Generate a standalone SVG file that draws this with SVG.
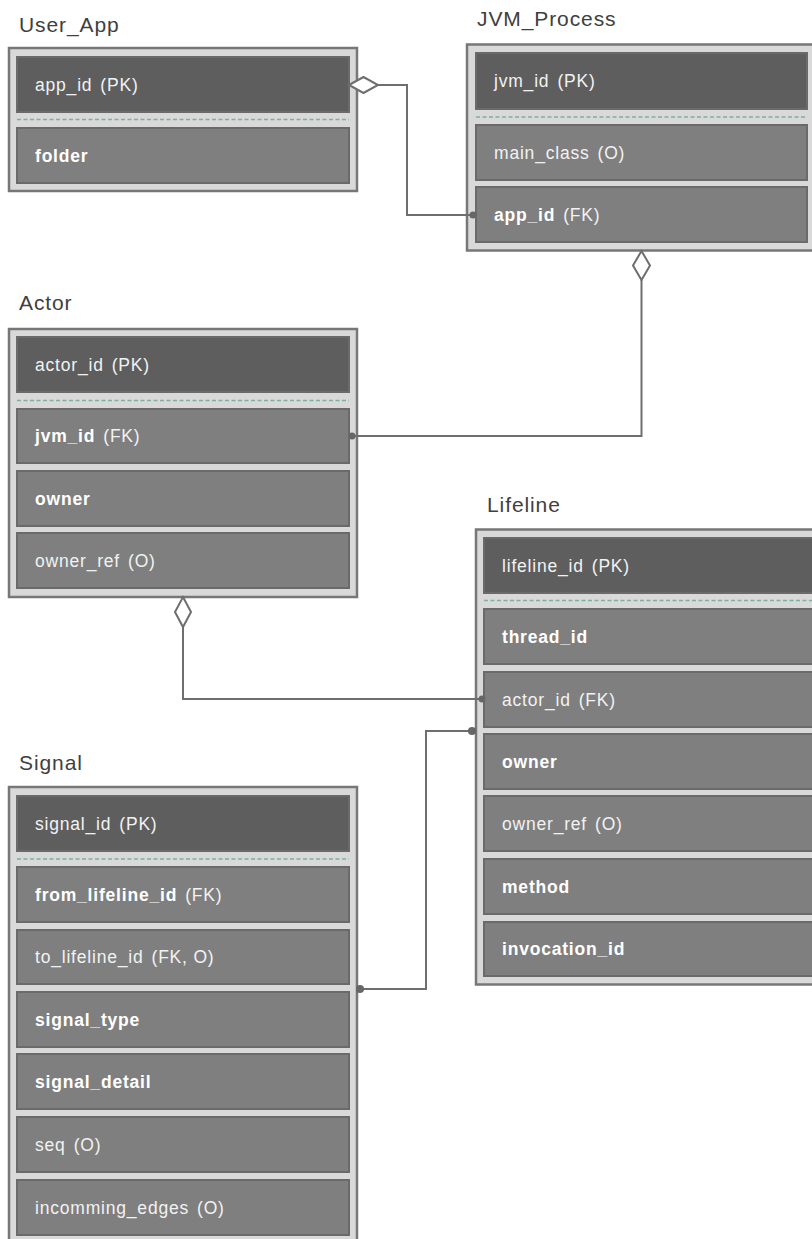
<svg xmlns="http://www.w3.org/2000/svg" width="812" height="1239" viewBox="0 0 812 1239">
<style>
.box{fill:#d9d9d9;stroke:#777777;stroke-width:2.5}
.row{fill:#7f7f7f;stroke:#6a6a6a;stroke-width:2}
.pk{fill:#5e5e5e;stroke:#6a6a6a;stroke-width:2}
.sep{stroke:#7fb09f;stroke-width:1.5;stroke-dasharray:4 2.5}
.title{font-family:"Liberation Sans",Arial,sans-serif;font-size:21px;fill:#404040;letter-spacing:0.9px}
.t{font-family:"Liberation Sans",Arial,sans-serif;font-size:17.5px;fill:#f2f2f2;letter-spacing:0.8px}
.b{font-weight:bold;fill:#ffffff}
.n{font-weight:normal;fill:#f2f2f2}
.ln{fill:none;stroke:#6e6e6e;stroke-width:2}
.dia{fill:#ffffff;stroke:#6e6e6e;stroke-width:2}
.dot{fill:#666666}
</style>
<rect width="812" height="1239" fill="#ffffff"/>

<g id="User_App">
<text class="title" x="19" y="32">User_App</text>
<rect class="box" x="9" y="48" width="348" height="143"/>
<rect class="pk" x="17" y="57" width="332" height="55"/>
<text class="t" x="35" y="91">app_id<tspan dx="8">(PK)</tspan></text>
<line class="sep" x1="17" y1="119.5" x2="349" y2="119.5"/>
<rect class="row" x="17" y="128" width="332" height="55"/>
<text class="t b" x="35" y="162">folder</text>
</g>

<g id="JVM_Process">
<text class="title" x="477" y="26">JVM_Process</text>
<rect class="box" x="467" y="44.5" width="352" height="206"/>
<rect class="pk" x="476" y="53" width="331" height="56"/>
<text class="t" x="494" y="87">jvm_id<tspan dx="8">(PK)</tspan></text>
<line class="sep" x1="476" y1="117" x2="807" y2="117"/>
<rect class="row" x="476" y="125" width="331" height="55"/>
<text class="t" x="494" y="159">main_class<tspan dx="8">(O)</tspan></text>
<rect class="row" x="476" y="187" width="331" height="55"/>
<text class="t b" x="494" y="221">app_id<tspan class="n" dx="8">(FK)</tspan></text>
</g>

<g id="Actor">
<text class="title" x="19" y="310">Actor</text>
<rect class="box" x="9" y="329" width="348" height="268"/>
<rect class="pk" x="17" y="337" width="332" height="55"/>
<text class="t" x="35" y="371">actor_id<tspan dx="8">(PK)</tspan></text>
<line class="sep" x1="17" y1="400.5" x2="349" y2="400.5"/>
<rect class="row" x="17" y="409" width="332" height="54"/>
<text class="t b" x="35" y="442">jvm_id<tspan class="n" dx="8">(FK)</tspan></text>
<rect class="row" x="17" y="471" width="332" height="55"/>
<text class="t b" x="35" y="505">owner</text>
<rect class="row" x="17" y="533" width="332" height="55"/>
<text class="t" x="35" y="567">owner_ref<tspan dx="8">(O)</tspan></text>
</g>

<g id="Lifeline">
<text class="title" x="487" y="512">Lifeline</text>
<rect class="box" x="476" y="529.5" width="352" height="455"/>
<rect class="pk" x="484" y="538" width="332" height="55"/>
<text class="t" x="502" y="572">lifeline_id<tspan dx="8">(PK)</tspan></text>
<line class="sep" x1="484" y1="600.5" x2="812" y2="600.5"/>
<rect class="row" x="484" y="609" width="332" height="55"/>
<text class="t b" x="502" y="643">thread_id</text>
<rect class="row" x="484" y="672" width="332" height="55"/>
<text class="t" x="502" y="706">actor_id<tspan dx="8">(FK)</tspan></text>
<rect class="row" x="484" y="734" width="332" height="55"/>
<text class="t b" x="502" y="768">owner</text>
<rect class="row" x="484" y="796" width="332" height="55"/>
<text class="t" x="502" y="830">owner_ref<tspan dx="8">(O)</tspan></text>
<rect class="row" x="484" y="859" width="332" height="55"/>
<text class="t b" x="502" y="893">method</text>
<rect class="row" x="484" y="922" width="332" height="54"/>
<text class="t b" x="502" y="955">invocation_id</text>
</g>

<g id="Signal">
<text class="title" x="19" y="770">Signal</text>
<rect class="box" x="9" y="787" width="348" height="460"/>
<rect class="pk" x="17" y="796" width="332" height="55"/>
<text class="t" x="35" y="830">signal_id<tspan dx="8">(PK)</tspan></text>
<line class="sep" x1="17" y1="859" x2="349" y2="859"/>
<rect class="row" x="17" y="867" width="332" height="55"/>
<text class="t b" x="35" y="901">from_lifeline_id<tspan class="n" dx="8">(FK)</tspan></text>
<rect class="row" x="17" y="930" width="332" height="54"/>
<text class="t" x="35" y="963">to_lifeline_id<tspan dx="8">(FK, O)</tspan></text>
<rect class="row" x="17" y="992" width="332" height="55"/>
<text class="t b" x="35" y="1026">signal_type</text>
<rect class="row" x="17" y="1054" width="332" height="55"/>
<text class="t b" x="35" y="1088">signal_detail</text>
<rect class="row" x="17" y="1117" width="332" height="55"/>
<text class="t" x="35" y="1151">seq<tspan dx="8">(O)</tspan></text>
<rect class="row" x="17" y="1180" width="332" height="55"/>
<text class="t" x="35" y="1214">incomming_edges<tspan dx="8">(O)</tspan></text>
</g>

<g id="connectors">
<path class="ln" d="M378,85 H407 V215 H474"/>
<polygon class="dia" points="349,85 363.5,77 378,85 363.5,93"/>
<circle class="dot" cx="473" cy="215" r="3.5"/>

<path class="ln" d="M641.5,280 V436 H352"/>
<polygon class="dia" points="641.5,251 650,265.5 641.5,280 633,265.5"/>
<circle class="dot" cx="352" cy="436" r="3.5"/>

<path class="ln" d="M183,627 V699 H482"/>
<polygon class="dia" points="183,597 191,612 183,627 175,612"/>
<circle class="dot" cx="482" cy="699" r="3.5"/>

<path class="ln" d="M360,989 H426 V731 H472"/>
<circle class="dot" cx="360" cy="989" r="4"/>
<circle class="dot" cx="472" cy="731" r="4"/>
</g>
</svg>
